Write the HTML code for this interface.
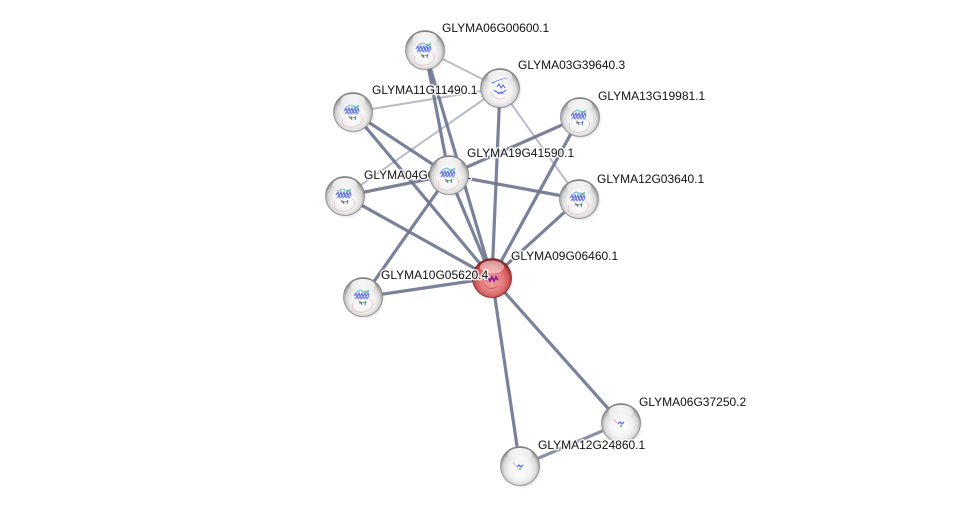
<!DOCTYPE html>
<html><head><meta charset="utf-8"><style>
html,body{margin:0;padding:0;background:#fff;}
svg{display:block;}
text{font-family:"Liberation Sans",Arial,sans-serif;font-size:12px;fill:#111;paint-order:stroke;stroke:rgba(255,255,255,0.85);stroke-width:3px;stroke-linejoin:round;}
</style></head><body>
<svg width="976" height="512" viewBox="0 0 976 512" xmlns="http://www.w3.org/2000/svg">
<defs>
<radialGradient id="gw" cx="50%" cy="55%" r="52%" fx="50%" fy="62%">
<stop offset="0" stop-color="#ffffff"/>
<stop offset="0.55" stop-color="#f3f3f3"/>
<stop offset="0.8" stop-color="#dcdcdc"/>
<stop offset="0.93" stop-color="#b0b0b0"/>
<stop offset="1" stop-color="#808080"/>
</radialGradient>
<radialGradient id="gr" cx="50%" cy="55%" r="52%" fx="50%" fy="62%">
<stop offset="0" stop-color="#f2a0a0"/>
<stop offset="0.55" stop-color="#e47c7c"/>
<stop offset="0.82" stop-color="#d05a5a"/>
<stop offset="0.94" stop-color="#aa3e3e"/>
<stop offset="1" stop-color="#7a2626"/>
</radialGradient>
<linearGradient id="hl" x1="0" y1="0" x2="0" y2="1">
<stop offset="0" stop-color="#fff" stop-opacity="0.95"/>
<stop offset="1" stop-color="#fff" stop-opacity="0.15"/>
</linearGradient>
<radialGradient id="sh" cx="50%" cy="50%" r="50%">
<stop offset="0.7" stop-color="#000" stop-opacity="0.18"/>
<stop offset="1" stop-color="#000" stop-opacity="0"/>
</radialGradient>
<g id="node">
<circle cx="1.5" cy="2" r="21" fill="url(#sh)"/>
<circle r="19.5" fill="url(#gw)" stroke="#8a8a8a" stroke-width="0.8"/>
</g>
<g id="hi">
<ellipse cx="0" cy="-11.5" rx="12.5" ry="6.5" fill="url(#hl)"/>
</g>
<g id="prot">
<path d="M-10,6 q-3,8 6,9 q8,1 12,-4 q4,-6 -2,-9" fill="none" stroke="#e8b0b0" stroke-width="0.6"/>
<path d="M-9,-1 l2,-3 l1,4 l2,-4 l1,4 l2,-4 l1,4 l2,-4 l1,4 l2,-4 l1,3" fill="none" stroke="#5d6fe0" stroke-width="1.1"/>
<path d="M-8,2 l2,-3 l1,3 l2,-3 l1,3 l2,-3 l1,3 l2,-3 l1,3 l2,-3" fill="none" stroke="#7080e8" stroke-width="1"/>
<path d="M-6,-5 q3,-3 6,-1 q3,2 6,-1" fill="none" stroke="#40b0c8" stroke-width="1"/>
<path d="M-4,4 q3,3 7,1 M1,-6 l3,2" fill="none" stroke="#4aa878" stroke-width="0.9"/>
<path d="M-2,5 l1,3 M3,4 l-1,4" stroke="#4a5ad0" stroke-width="0.9"/>
<circle cx="-3" cy="6" r="0.9" fill="#e06060"/>
<circle cx="5" cy="-6" r="0.9" fill="#40c070"/>
</g>
<g id="protS">
<path d="M-3,1 l2,-2 l2,2 l2,-2" fill="none" stroke="#5a6ee0" stroke-width="1.3"/>
<path d="M-7,-4 l3,4" stroke="#e8a0a0" stroke-width="0.7"/>
<circle cx="0" cy="3" r="1" fill="#40c070"/>
</g>
</defs>

<!-- thin light edges -->
<g stroke="#b9bdcb" stroke-width="2" fill="none">
<line x1="425" y1="50" x2="500" y2="88"/>
<line x1="500" y1="88" x2="353" y2="112"/>
<line x1="500" y1="88" x2="345" y2="196"/>
<line x1="500" y1="88" x2="579" y2="199"/>
</g>
<!-- thick edges -->
<g stroke="#6f7691" stroke-width="3.2" stroke-opacity="0.92" fill="none">
<line x1="425" y1="50" x2="449" y2="175"/>
<line x1="425" y1="50" x2="492" y2="278"/>
<line x1="500" y1="88" x2="492" y2="278"/>
<line x1="353" y1="112" x2="449" y2="175"/>
<line x1="353" y1="112" x2="492" y2="278"/>
<line x1="580" y1="117" x2="449" y2="175"/>
<line x1="580" y1="117" x2="492" y2="278"/>
<line x1="449" y1="175" x2="345" y2="196"/>
<line x1="449" y1="175" x2="579" y2="199"/>
<line x1="449" y1="175" x2="492" y2="278"/>
<line x1="449" y1="175" x2="363" y2="297"/>
<line x1="345" y1="196" x2="492" y2="278"/>
<line x1="579" y1="199" x2="492" y2="278"/>
<line x1="363" y1="297" x2="492" y2="278"/>
<line x1="492" y1="278" x2="621" y2="423"/>
<line x1="492" y1="278" x2="520" y2="466"/>
</g>
<line x1="621" y1="423" x2="520" y2="466" stroke="#8a91a9" stroke-width="3.2"/>

<!-- nodes + labels -->
<g transform="translate(345,196)"><use href="#node"/><use href="#prot"/><use href="#hi"/></g>
<text x="364" y="179">GLYMA04G01020.1</text>

<g transform="translate(425,50)"><use href="#node"/><use href="#prot"/><use href="#hi"/></g>
<text x="442" y="32">GLYMA06G00600.1</text>

<g transform="translate(353,112)"><use href="#node"/><use href="#prot"/><use href="#hi"/></g>
<text x="372" y="94">GLYMA11G11490.1</text>

<g transform="translate(500,88)"><use href="#node"/>
<path d="M-8,-5 q8,-4 16,-5" fill="none" stroke="#5a6ee0" stroke-width="1"/>
<path d="M-3,-1 l2,-3 l2,4 l2,-3 l2,3 M-2,6 l3,-2 l2,2 M-6,2 q6,6 12,0" fill="none" stroke="#5a6ee0" stroke-width="1.1"/>
<path d="M-9,4 q4,10 14,6" fill="none" stroke="#e8b0b0" stroke-width="0.6"/>
<use href="#hi"/></g>
<text x="518" y="69">GLYMA03G39640.3</text>

<g transform="translate(580,117)"><use href="#node"/><use href="#prot"/><use href="#hi"/></g>
<text x="598" y="100">GLYMA13G19981.1</text>

<g transform="translate(449,175)"><use href="#node"/><use href="#prot"/><use href="#hi"/></g>
<text x="467" y="157">GLYMA19G41590.1</text>

<g transform="translate(579,199)"><use href="#node"/><use href="#prot"/><use href="#hi"/></g>
<text x="597" y="183">GLYMA12G03640.1</text>

<g transform="translate(621,423)"><use href="#node"/><use href="#protS"/><use href="#hi"/></g>
<text x="639" y="406">GLYMA06G37250.2</text>

<g transform="translate(520,466)"><use href="#node"/><use href="#protS"/><use href="#hi"/></g>
<text x="538" y="449">GLYMA12G24860.1</text>

<g transform="translate(492,278)">
<circle cx="1.5" cy="2" r="21" fill="url(#sh)"/>
<circle r="19.5" fill="url(#gr)" stroke="#7a2a2a" stroke-width="0.8"/>
<path d="M-6,3 l2,-4 l2,4 l2,-4 l2,4 l2,-4 l2,3" fill="none" stroke="#8a2090" stroke-width="1.8"/>
<path d="M-8,6 q6,8 14,2" fill="none" stroke="#c05050" stroke-width="0.6"/>
<ellipse cx="0" cy="-11" rx="12" ry="6.5" fill="#fff" fill-opacity="0.45"/>
</g>
<text x="511" y="260">GLYMA09G06460.1</text>

<g transform="translate(363,297)"><use href="#node"/><use href="#prot"/><use href="#hi"/></g>
<text x="381" y="279">GLYMA10G05620.4</text>
</svg>
</body></html>
